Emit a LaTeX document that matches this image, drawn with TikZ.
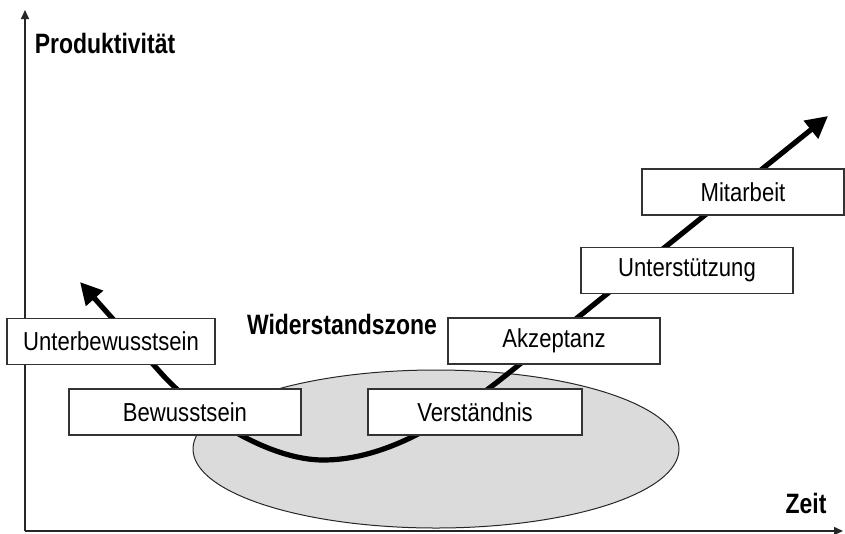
\documentclass[tikz,border=0pt]{standalone}
\usepackage{fontspec}
\usepackage{tikz}
\usetikzlibrary{arrows.meta}
\newfontfamily\stagefont[FakeStretch=0.85]{Liberation Sans}
\newfontfamily\titlefont[FakeStretch=0.82]{Liberation Sans Bold}

\begin{document}
\begin{tikzpicture}[
    x=1pt, y=-1pt,
    stage/.style={draw=black!80, line width=1.4pt, fill=white, minimum height=46pt, inner sep=0pt, font=\stagefont\fontsize{26}{31}\selectfont},
    axislabel/.style={font=\titlefont\fontsize{28}{33}\selectfont, inner sep=0pt},
    axis/.style={draw=black!85, line width=1.5pt, -{Triangle[length=9pt,width=8pt]}},
    curve/.style={line width=5.2pt, {Triangle[length=22pt,width=22pt]}-{Triangle[length=22pt,width=22pt]}}
]
\useasboundingbox (0,0) rectangle (845,533);

% Widerstandszone
\draw[fill=black!14, draw=black!85, line width=1pt] (436,449) ellipse [x radius=243pt, y radius=79pt];
\node[axislabel] (zone) at (342,324) {Widerstandszone};

% axes
\coordinate (origin) at (25,531);
\coordinate (ytip) at (25,10);
\coordinate (xtip) at (843,531);
\draw[axis] (origin) -- (ytip);
\draw[axis] (origin) -- (xtip);
\node[axislabel] (ylabel) at (105,43) {Produktivität};
\node[axislabel] (xlabel) at (806,503) {Zeit};

% curve
\coordinate (uptip) at (80,282);
\coordinate (down) at (160,372);
\coordinate (bottom) at (323,460);
\coordinate (rise) at (510,372);
\coordinate (endtip) at (828,116);
\draw[curve] (uptip) -- (down) .. controls (200,417) and (270,460) .. (bottom)
    .. controls (390,460) and (455,416) .. (rise) -- (endtip);

% stages
\node[stage, minimum width=208pt] (unterbewusst) at (111,341.5) {Unterbewusstsein};
\node[stage, minimum width=232pt] (bewusst) at (185,412) {Bewusstsein};
\node[stage, minimum width=214pt] (verstaendnis) at (475,412) {Verständnis};
\node[stage, minimum width=212pt] (akzeptanz) at (554,341) {Akzeptanz};
\node[stage, minimum width=212pt] (unterstuetzung) at (687,270.5) {Unterstützung};
\node[stage, minimum width=202pt] (mitarbeit) at (743,192) {Mitarbeit};
\end{tikzpicture}
\end{document}
